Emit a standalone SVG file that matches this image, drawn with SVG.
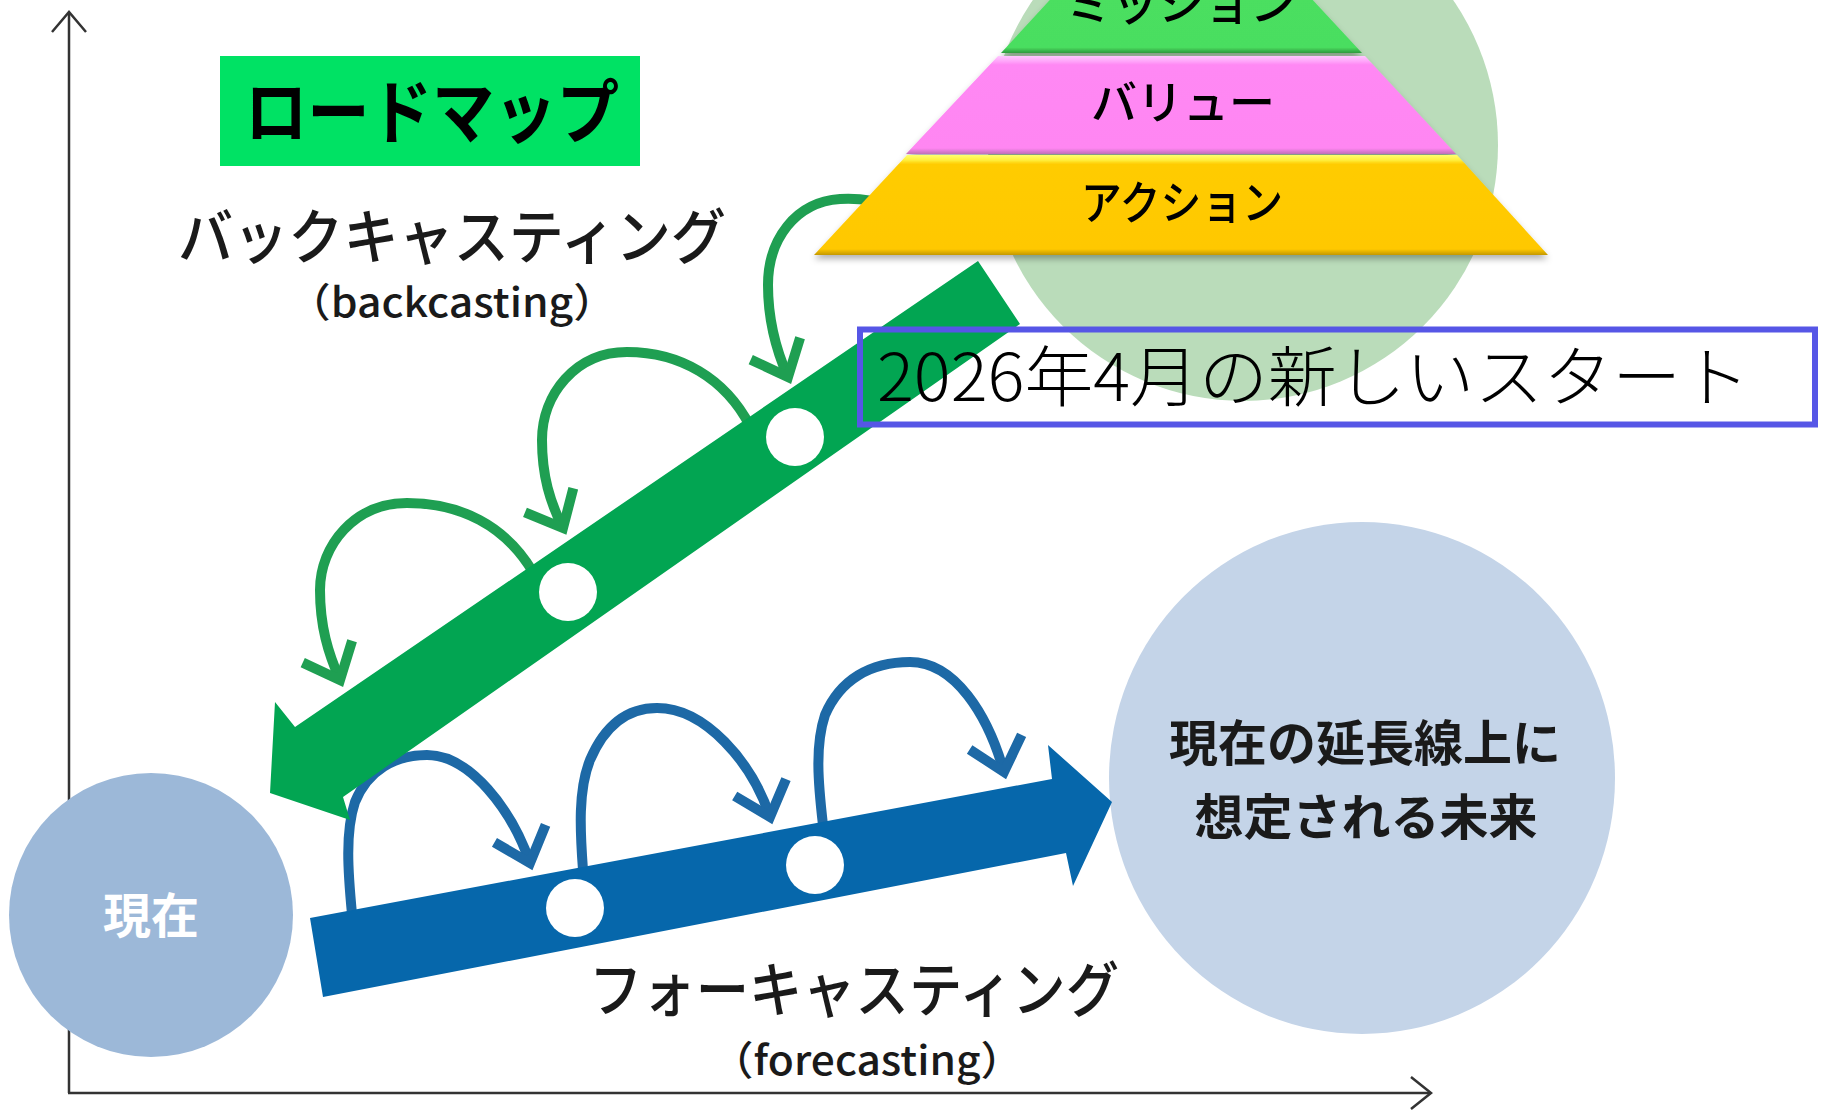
<svg xmlns="http://www.w3.org/2000/svg" width="1822" height="1114" viewBox="0 0 1822 1114">
  <style>
    .jp { font-family: "Noto Sans CJK JP", "Noto Sans", sans-serif; }
    .lbl { fill: #1a1a1a; }
    .med { font-weight: 500; }
    .axis { stroke: #333333; stroke-width: 2.5; fill: none; }
    .garc { stroke: #1F9F52; stroke-width: 10; fill: none; marker-end: url(#chevG); }
    .barc { stroke: #1D69A6; stroke-width: 10; fill: none; marker-end: url(#chevB); }
    .hole { fill: #ffffff; }
  </style>
  <defs>
    <marker id="chevG" markerUnits="userSpaceOnUse" orient="auto" markerWidth="100" markerHeight="100" refX="0" refY="0" overflow="visible">
      <path d="M-31,-27 L0,0 L-31,27" fill="none" stroke="#1F9F52" stroke-width="10" stroke-linejoin="miter"/>
    </marker>
    <marker id="chevB" markerUnits="userSpaceOnUse" orient="auto" markerWidth="100" markerHeight="100" refX="0" refY="0" overflow="visible">
      <path d="M-31,-27 L0,0 L-31,27" fill="none" stroke="#1D69A6" stroke-width="10" stroke-linejoin="miter"/>
    </marker>
    <linearGradient id="gYellow" x1="0" y1="0" x2="0" y2="1">
      <stop offset="0" stop-color="#FFFF70"/>
      <stop offset="0.05" stop-color="#FFF040"/>
      <stop offset="0.09" stop-color="#FFCC00"/>
      <stop offset="0.94" stop-color="#FFC800"/>
      <stop offset="1" stop-color="#C49800"/>
    </linearGradient>
    <linearGradient id="gPink" x1="0" y1="0" x2="0" y2="1">
      <stop offset="0" stop-color="#FFC8FF"/>
      <stop offset="0.05" stop-color="#FFA8FA"/>
      <stop offset="0.09" stop-color="#FF88F4"/>
      <stop offset="0.94" stop-color="#FF86F2"/>
      <stop offset="1" stop-color="#C070B8"/>
    </linearGradient>
    <linearGradient id="gGreen" x1="0" y1="0" x2="0" y2="1">
      <stop offset="0" stop-color="#4CE062"/>
      <stop offset="0.95" stop-color="#4ADE60"/>
      <stop offset="1" stop-color="#2E9A3E"/>
    </linearGradient>
    <filter id="shadow" x="-10%" y="-10%" width="120%" height="130%">
      <feDropShadow dx="0" dy="4" stdDeviation="3" flood-color="#000000" flood-opacity="0.3"/>
    </filter>
  </defs>

  <rect width="1822" height="1114" fill="#ffffff"/>

  <!-- axes -->
  <g id="axes">
    <line class="axis" x1="69" y1="13" x2="69" y2="1093"/>
    <line class="axis" x1="68" y1="1093" x2="1430" y2="1093"/>
    <polyline class="axis" points="52,32 69,12 86,32"/>
    <polyline class="axis" points="1411,1077 1431,1093 1411,1109"/>
  </g>

  <!-- light green circle behind pyramid -->
  <g id="goal-circle">
    <ellipse cx="1243" cy="145" rx="255" ry="256" fill="#BADCBA"/>
  </g>

  <!-- current state circle -->
  <g id="present">
    <ellipse cx="151" cy="915" rx="142" ry="142" fill="#9CB8D8"/>
    <text class="jp" x="151" y="933" font-size="48" font-weight="700" fill="#ffffff" text-anchor="middle">現在</text>
  </g>

  <!-- future circle -->
  <g id="future">
    <ellipse cx="1362" cy="778" rx="253" ry="256" fill="#C4D4E8"/>
    <text class="jp lbl" x="1365" y="761" font-size="49" font-weight="700" text-anchor="middle">現在の延長線上に</text>
    <text class="jp lbl" x="1366" y="835" font-size="49" font-weight="700" text-anchor="middle">想定される未来</text>
  </g>

  <!-- connectors: hop arcs -->
  <g id="connectors">
    <path class="garc" d="M905,212 C880,200 860,198 840,199 C795,202 768,240 768,285 C768,322 776,350 788,377"/>
    <path class="garc" d="M750,426 C725,378 680,352 627,352 C575,352 542,395 542,440 C542,476 550,502 563,528"/>
    <path class="garc" d="M533,572 C505,525 460,503 407,503 C355,503 320,545 320,590 C320,626 328,653 340,680"/>
    <path class="barc" d="M352,914 C348,872 345,832 355,802 C368,770 395,755 427,755 C470,755 512,810 530,863"/>
    <path class="barc" d="M583,870 C580,830 578,790 590,760 C605,725 628,708 657,708 C705,708 752,762 770,817"/>
    <path class="barc" d="M823,825 C818,782 815,745 825,715 C840,680 870,662 910,662 C955,662 988,715 1004,772"/>
  </g>

  <!-- backcasting band (green) -->
  <g id="backcasting-arrow">
    <polygon points="978,261 1020,324 343,797 350,820 270,793 275,702 295,727" fill="#02A552"/>
    <circle class="hole" cx="795" cy="437" r="29"/>
    <circle class="hole" cx="568" cy="592" r="29"/>
  </g>

  <!-- forecasting band (blue) -->
  <g id="forecasting-arrow">
    <polygon points="310,918 1052,779 1048,745 1112,802 1073,886 1066,853 323,997" fill="#0667AB"/>
    <circle class="hole" cx="575" cy="908" r="29"/>
    <circle class="hole" cx="815" cy="865" r="29"/>
  </g>

  <!-- pyramid -->
  <g id="pyramid" filter="url(#shadow)">
    <g id="mission">
      <polygon points="1105,-60 1257,-60 1362,53 1001,53" fill="url(#gGreen)"/>
      <text class="jp med" x="1181" y="20" font-size="46" fill="#000000" text-anchor="middle">ミッション</text>
    </g>
    <g id="value">
      <polygon points="998,56 1365,56 1456,154 906,154" fill="url(#gPink)"/>
      <text class="jp med" x="1183" y="119" font-size="46" fill="#000000" text-anchor="middle">バリュー</text>
    </g>
    <g id="action">
      <polygon points="907,155 1457,155 1548,255 814,255" fill="url(#gYellow)"/>
      <text class="jp med" x="1081" y="219" font-size="46" fill="#000000" textLength="202" lengthAdjust="spacingAndGlyphs">アクション</text>
    </g>
  </g>

  <!-- title label -->
  <g id="roadmap-label">
    <rect x="220" y="56" width="420" height="110" fill="#00E264"/>
    <text class="jp" x="245" y="138" font-size="70" font-weight="700" fill="#000000" textLength="374" lengthAdjust="spacingAndGlyphs">ロードマップ</text>
  </g>

  <!-- method labels -->
  <g id="backcasting-label">
    <text class="jp lbl med" x="178" y="259" font-size="60" textLength="548" lengthAdjust="spacingAndGlyphs">バックキャスティング</text>
    <text class="jp lbl med" x="288" y="317" font-size="40" textLength="328" lengthAdjust="spacingAndGlyphs">（backcasting）</text>
  </g>
  <g id="forecasting-label">
    <text class="jp lbl med" x="589" y="1012" font-size="60" textLength="530" lengthAdjust="spacingAndGlyphs">フォーキャスティング</text>
    <text class="jp lbl med" x="711" y="1075" font-size="40" textLength="312" lengthAdjust="spacingAndGlyphs">（forecasting）</text>
  </g>

  <!-- start box -->
  <g id="start-box">
    <rect x="860" y="329.5" width="955" height="95" fill="none" stroke="#5656E6" stroke-width="6"/>
    <text class="jp" x="877" y="401" font-size="66" font-weight="300" fill="#000000" textLength="873" lengthAdjust="spacingAndGlyphs">2026年4月の新しいスタート</text>
  </g>
</svg>
